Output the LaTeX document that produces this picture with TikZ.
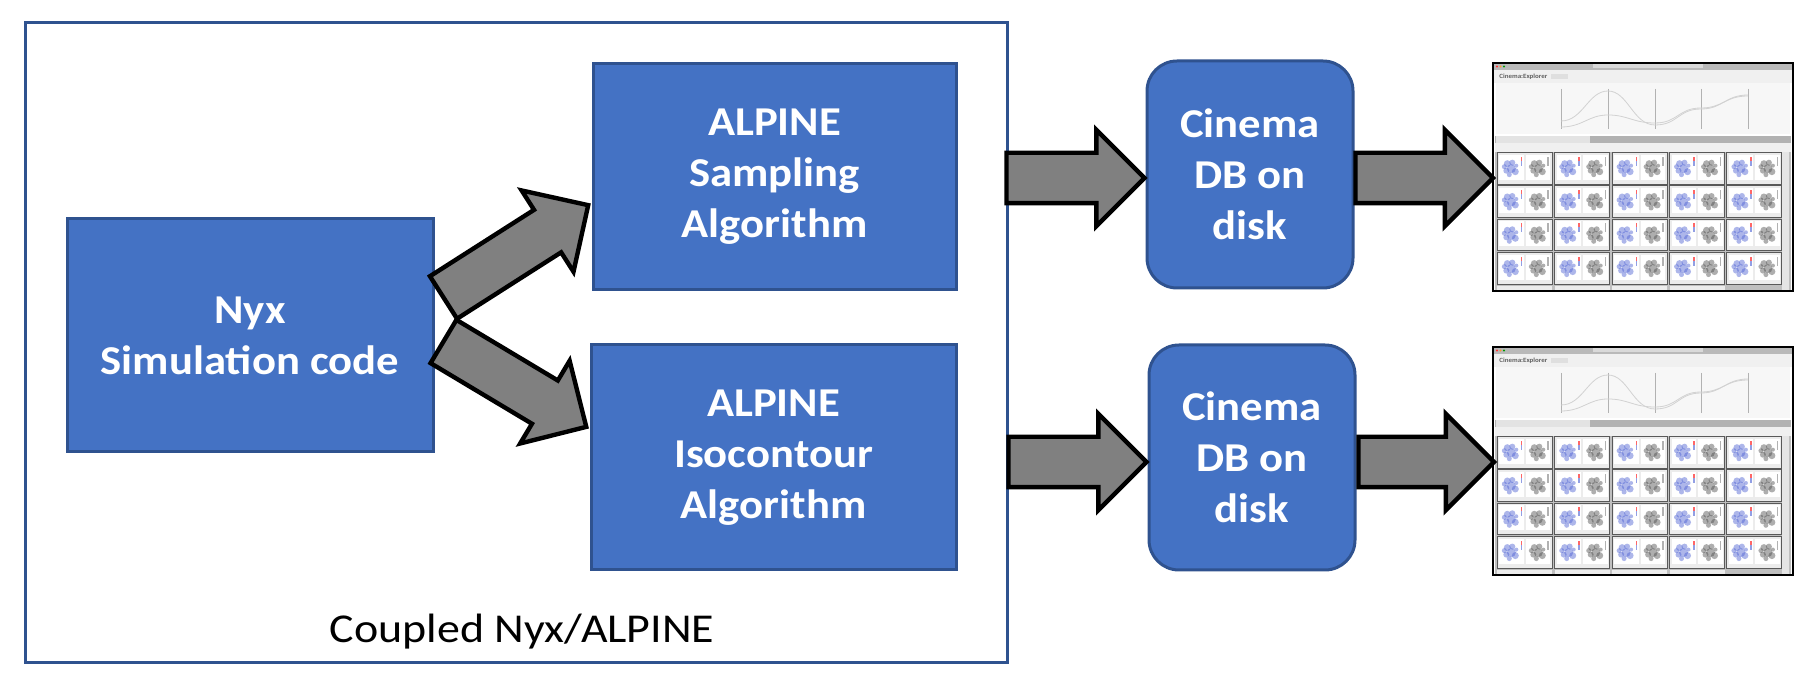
\documentclass[tikz,border=0pt]{standalone}
\usepackage{fontspec}
\setmainfont{Carlito}[FakeStretch=1.12, BoldFeatures={FakeStretch=1.09}]
\usetikzlibrary{calc,shapes.arrows}
\definecolor{boxblue}{HTML}{4472C4}
\definecolor{boxline}{HTML}{2F528F}
\definecolor{arrowgray}{HTML}{808080}
\definecolor{shotblue}{HTML}{4A5FD2}

\newcommand{\fatarrow}[2]{\path let \p1=($(#2)-(#1)$), \n1={atan2(\y1,\x1)}, \n2={veclen(\x1,\y1)} in
  node[blockarrow, rotate=\n1, minimum height=\n2, anchor=tail] at (#1) {};}

\newcommand{\explorershot}[1]{%
  \begin{scope}[shift={(#1.north west)}]
    \fill[white] (0,0) rectangle (300,228);
    \fill[gray!55] (0,0) rectangle (300,7);
    \fill[gray!30] (100,1.5) rectangle (210,5.5);
    \foreach \i/\col in {0/red!80,1/orange!80,2/green!60!black} \fill[\col] (4+3.5*\i,3.5) circle (1.1);
    \fill[gray!12] (0,7) rectangle (300,20);
    \node[anchor=west, inner sep=0, text=gray!75!black, font=\bfseries\fontsize{3.2}{4}\selectfont] at (6,14) {Cinema:Explorer};
    \fill[gray!25] (58,11) rectangle (75,16);
    \fill[gray!6] (3,20) rectangle (297,71);
    \foreach \a in {68,115,162,208,255} \draw[gray!60, line width=.3pt] (\a,26) -- (\a,66);
    \draw[gray!35, line width=.4pt] (68,58) .. controls (90,58) and (95,28) .. (115,28) .. controls (135,28) and (140,62) .. (162,62) .. controls (185,62) and (185,46) .. (208,46) .. controls (230,46) and (232,32) .. (255,32);
    \draw[gray!35, line width=.4pt] (68,64) .. controls (90,64) and (95,52) .. (115,52) .. controls (135,52) and (140,60) .. (162,60) .. controls (185,60) and (185,45) .. (208,45) .. controls (230,45) and (232,33) .. (255,33);
    \fill[gray!60] (2,73) rectangle (298,80);
    \fill[gray!22] (3,73.5) rectangle (97,80);
    \fill[gray!12] (2,80) rectangle (298,89);
    \fill[gray!50] (2,89) rectangle (298,228);
    \fill[gray!20] (289,89) rectangle (296,228);
    \foreach \c in {0,...,4} \foreach \r in {0,...,3} {
      \begin{scope}[shift={(4.3+57.4*\c,89.7+33.3*\r)}]
        \filldraw[fill=gray!15, draw=gray!70!black, line width=.5pt] (0,0) rectangle (55,31.5);
        \fill[white] (2,2) rectangle (26.5,27);
        \fill[white] (28.5,2) rectangle (53,27);
        \foreach \px/\py/\pr in {10/11/3.5,15/10/3,14/16/4.5,9/18/3,18/19/3.5,12/22/2.5,7/14/2.5,19/13/2} {
          \fill[shotblue, opacity=.45] (\px,\py) circle (\pr);
          \fill[gray!60!black, opacity=.45] (\px+27,\py) circle (\pr);}
        \fill[red!60] (23.5,4) rectangle (25,8);
        \fill[shotblue!60] (23.5,8) rectangle (25,13);
        \fill[gray!60] (50,4) rectangle (51.5,13);
      \end{scope}}
    \foreach \c in {0,...,3} \fill[gray!15] (4.3+57.4*\c,223) rectangle ++(55,4);
    \draw[black, line width=1pt] (0,0) rectangle (300,228);
  \end{scope}}

\begin{document}
\begin{tikzpicture}[x=0.5pt, y=-0.5pt,
  box/.style = {draw=boxline, fill=boxblue, line width=1.5pt, text=white, align=center,
    font=\bfseries\fontsize{20.5}{25.5}\selectfont, inner sep=0},
  dbbox/.style = {box, rounded corners=15pt},
  shot/.style = {minimum width=150pt, inner sep=0, outer sep=0},
  blockarrow/.style = {single arrow, draw=black, fill=arrowgray, line width=2.2pt, inner xsep=0, inner ysep=11.5pt,
    single arrow head extend=11.5pt, single arrow tip angle=90, outer sep=0}]
  \useasboundingbox (0,0) rectangle (1820,688);
  \node[draw=boxline, line width=1.5pt, minimum width=491pt, minimum height=320pt, inner sep=0](coupled) at (516,343) {};
  \node[anchor=base, font=\fontsize{20.5}{25.5}\selectfont](caption) at (522,643) {Coupled Nyx/ALPINE};
  \node[box, minimum width=183pt, minimum height=116.5pt](nyx) at (250,335.5) {Nyx\\Simulation code};
  \node[box, minimum width=181.5pt, minimum height=113pt](samp) at (774.5,177) {ALPINE\\Sampling\\Algorithm};
  \node[box, minimum width=182.5pt, minimum height=112.5pt](iso) at (773.5,457.5) {ALPINE\\Isocontour\\Algorithm};
  \node[dbbox, minimum width=103pt, minimum height=113.5pt](db1) at (1250,174.5) {Cinema\\DB on\\disk};
  \node[dbbox, minimum width=103pt, minimum height=112.5pt](db2) at (1252,457.5) {Cinema\\DB on\\disk};
  \node[shot, minimum height=114pt](shot1) at (1643,177) {};
  \node[shot, minimum height=113pt](shot2) at (1643,460) {};
  \explorershot{shot1}
  \explorershot{shot2}
  \coordinate (up0) at ($(nyx.east)+(9,-38)$);
  \coordinate (up1) at ($(samp.west)+(-3,28)$);
  \coordinate (dn0) at ($(nyx.east)+(9,6)$);
  \coordinate (dn1) at ($(iso.west)+(-3,-30.5)$);
  \coordinate (r1) at ($(coupled.east |- db1.west)+(-2,3.5)$);
  \coordinate (r2) at ($(db1.west)+(-1,3.5)$);
  \coordinate (r3) at ($(db1.east)+(1,3.5)$);
  \coordinate (r4) at ($(shot1.west)+(0,1)$);
  \coordinate (s1) at ($(coupled.east |- db2.west)+(0,4.5)$);
  \coordinate (s2) at ($(db2.west)+(-1,4.5)$);
  \coordinate (s3) at ($(db2.east)+(2,4.5)$);
  \coordinate (s4) at ($(shot2.west)+(1,2)$);
  \fatarrow{up0}{up1}
  \fatarrow{dn0}{dn1}
  \fatarrow{r1}{r2}
  \fatarrow{r3}{r4}
  \fatarrow{s1}{s2}
  \fatarrow{s3}{s4}
\end{tikzpicture}
\end{document}
